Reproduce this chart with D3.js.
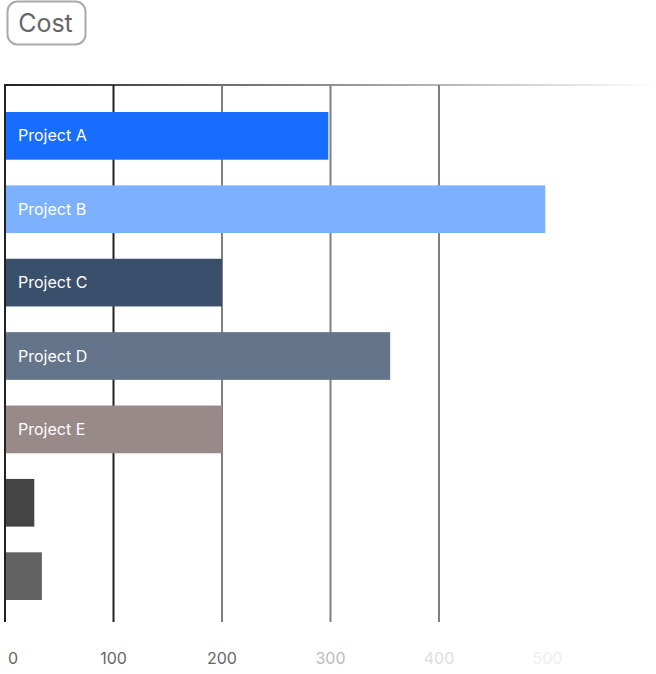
<!DOCTYPE html>
<meta charset="utf-8">
<script src="https://d3js.org/d3.v7.min.js"></script>
<style type="text/css">
  body { margin: 0; background: #fff; }
  text { font-family: Inter, "Noto Sans", sans-serif; }
</style>
<body>
<svg width="656" height="674"></svg>
<script>

    let categories = ['Project A', 'Project B', 'Project C', 'Project D', 'Project E', '', ' '],
        values = [298, 498, 200, 355, 200, 27, 34],
        barColors = ['#176dff', '#7db1ff', '#3a4f6b', '#64748b', '#978a89', '#444444', '#636363'],
        tickValues = [0, 100, 200, 300, 400, 500],
        tickLabelColors = ['#666', '#666', '#666', '#bbb', '#ddd', '#eee'],
        gridColors = ['#222', '#222', '#808080', '#808080', '#808080', null]

    let svg = d3.select('svg'),
        defs = svg.append('defs')

    let x = d3.scaleLinear().domain([0, 600]).range([5, 656]),
        y = d3.scaleBand().domain(categories).range([112, 600]).paddingInner(0.35).paddingOuter(0)

    let plotTop = 85, plotBottom = 622

    // title box
    let title = svg.append('g')
    title.append('rect')
        .attr('x', 7.5).attr('y', 1.5).attr('width', 78).attr('height', 43)
        .attr('rx', 10).attr('fill', '#fff').attr('stroke', '#aaa').attr('stroke-width', 2)
    title.append('text')
        .attr('x', 45.5).attr('y', 32).attr('text-anchor', 'middle')
        .attr('font-size', 25).attr('fill', '#666').text('Cost')

    // top fading line
    let grad = defs.append('linearGradient').attr('id', 'topline')
        .attr('gradientUnits', 'userSpaceOnUse')
        .attr('x1', x(0)).attr('x2', 656).attr('y1', 0).attr('y2', 0)
    grad.append('stop').attr('offset', '0%').attr('stop-color', '#222').attr('stop-opacity', 1)
    grad.append('stop').attr('offset', '100%').attr('stop-color', '#222').attr('stop-opacity', 0)

    svg.append('line')
        .attr('x1', x(0) - 1).attr('x2', 656).attr('y1', plotTop).attr('y2', plotTop)
        .attr('stroke', 'url(#topline)').attr('stroke-width', 2)

    // grid lines
    svg.append('g').selectAll('line')
        .data(tickValues.filter((d, i) => gridColors[i]))
        .enter().append('line')
        .attr('x1', d => x(d)).attr('x2', d => x(d))
        .attr('y1', plotTop).attr('y2', plotBottom)
        .attr('stroke', d => gridColors[tickValues.indexOf(d)])
        .attr('stroke-width', 2)

    // bars
    let bars = svg.append('g').selectAll('g')
        .data(categories.map((c, i) => ({ name: c, value: values[i], color: barColors[i] })))
        .enter().append('g')

    bars.append('rect')
        .attr('x', x(0) + 1)
        .attr('y', d => y(d.name))
        .attr('width', d => x(d.value) - x(0) - 1)
        .attr('height', y.bandwidth())
        .attr('fill', d => d.color)

    bars.append('text')
        .attr('x', 18)
        .attr('y', d => y(d.name) + y.bandwidth() / 2)
        .attr('dy', '0.35em')
        .attr('font-size', 16)
        .attr('fill', '#fff')
        .text(d => d.name.trim())

    // left axis line drawn over bars
    svg.append('line')
        .attr('x1', x(0)).attr('x2', x(0)).attr('y1', plotTop).attr('y2', plotBottom)
        .attr('stroke', '#222').attr('stroke-width', 2)

    // tick labels
    svg.append('g').selectAll('text')
        .data(tickValues).enter().append('text')
        .attr('x', d => d === 0 ? x(d) + 8 : x(d))
        .attr('y', 664)
        .attr('text-anchor', 'middle')
        .attr('font-size', 16)
        .attr('fill', (d, i) => tickLabelColors[i])
        .text(d => d)

</script>
</body>
